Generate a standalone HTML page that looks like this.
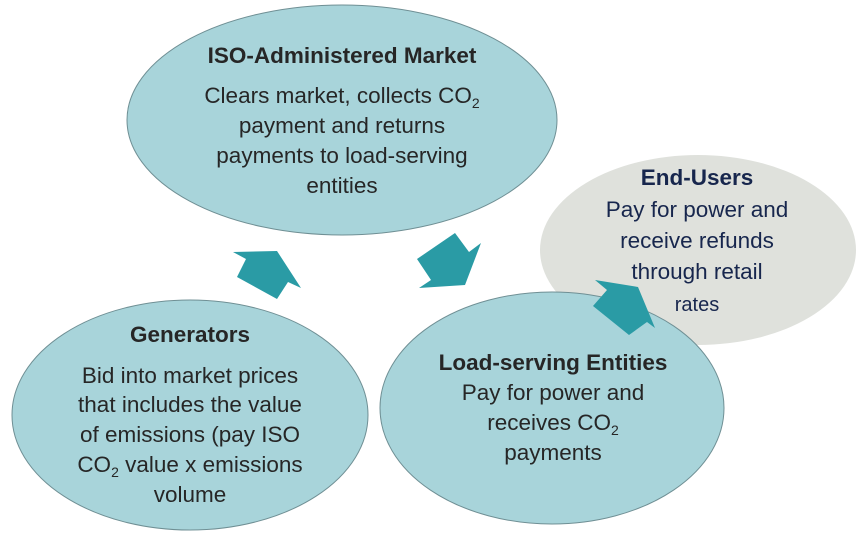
<!DOCTYPE html>
<html><head><meta charset="utf-8"><style>
html,body{margin:0;padding:0;background:#fff;}
svg{display:block;}
text{font-family:"Liberation Sans",sans-serif;font-size:22.5px;fill:#262626;text-anchor:middle;}
.b{font-weight:bold;font-size:22.5px;}
.n{fill:#17264d;}
</style></head><body>
<svg width="863" height="550" viewBox="0 0 863 550">
<ellipse cx="342" cy="120" rx="215" ry="115" fill="#a8d4da" stroke="#6f8f94" stroke-width="1"/>
<ellipse cx="698" cy="250" rx="158" ry="95" fill="#dfe1dc"/>
<ellipse cx="190" cy="415" rx="178" ry="115" fill="#a8d4da" stroke="#6f8f94" stroke-width="1"/>
<ellipse cx="552" cy="408" rx="172" ry="116" fill="#a8d4da" stroke="#6f8f94" stroke-width="1"/>
<polygon points="233,252 277,251 301,288 288,282 277,299 237,277 246,259" fill="#2a9ba5"/>
<polygon points="417,259 455,233 469,252 481,243 465,285 419,288 431,280" fill="#2a9ba5"/>
<polygon points="595,280 638,287 655,328 647,322 629,335 593,306 607,290" fill="#2a9ba5"/>

<text x="342" y="63" class="b">ISO-Administered Market</text>
<text x="342" y="103">Clears market, collects CO<tspan font-size="14" dy="5">2</tspan></text>
<text x="342" y="133">payment and returns</text>
<text x="342" y="163">payments to load-serving</text>
<text x="342" y="193">entities</text>

<text x="697" y="185" class="b n">End-Users</text>
<text x="697" y="217" class="n">Pay for power and</text>
<text x="697" y="248" class="n">receive refunds</text>
<text x="697" y="279" class="n">through retail</text>
<text x="697" y="311" class="n" style="font-size:20px">rates</text>

<text x="190" y="342" class="b">Generators</text>
<text x="190" y="383">Bid into market prices</text>
<text x="190" y="412">that includes the value</text>
<text x="190" y="442">of emissions (pay ISO</text>
<text x="190" y="472">CO<tspan font-size="14" dy="5">2</tspan><tspan dy="-5"> value x emissions</tspan></text>
<text x="190" y="502">volume</text>

<text x="553" y="370" class="b">Load-serving Entities</text>
<text x="553" y="400">Pay for power and</text>
<text x="553" y="430">receives CO<tspan font-size="14" dy="5">2</tspan></text>
<text x="553" y="460">payments</text>
</svg>
</body></html>
